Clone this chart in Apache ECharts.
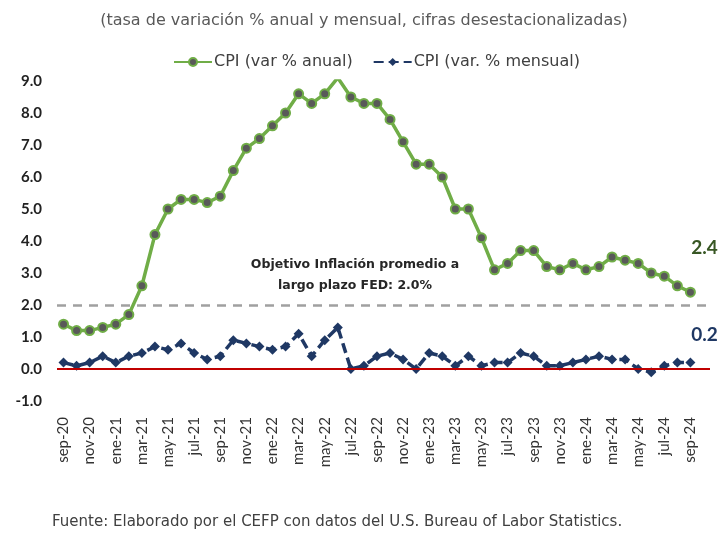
<!DOCTYPE html>
<html>
<head>
<meta charset="utf-8">
<script src="https://cdn.jsdelivr.net/npm/echarts@6/dist/echarts.min.js"></script>
<style>
  html, body { margin: 0; padding: 0; background: #fff; }
  #chart { width: 728px; height: 538px; }
</style>
</head>
<body>
<div id="chart"></div>
<script>
// meses sep-20 .. sep-24 (+1 hueco al final, como en el original)
const months = [
  'sep-20', 'oct-20', 'nov-20', 'dic-20',
  'ene-21', 'feb-21', 'mar-21', 'abr-21', 'may-21', 'jun-21', 'jul-21', 'ago-21', 'sep-21', 'oct-21', 'nov-21', 'dic-21',
  'ene-22', 'feb-22', 'mar-22', 'abr-22', 'may-22', 'jun-22', 'jul-22', 'ago-22', 'sep-22', 'oct-22', 'nov-22', 'dic-22',
  'ene-23', 'feb-23', 'mar-23', 'abr-23', 'may-23', 'jun-23', 'jul-23', 'ago-23', 'sep-23', 'oct-23', 'nov-23', 'dic-23',
  'ene-24', 'feb-24', 'mar-24', 'abr-24', 'may-24', 'jun-24', 'jul-24', 'ago-24', 'sep-24', ''
]

const cpiAnual = [
  1.4, 1.2, 1.2, 1.3,
  1.4, 1.7, 2.6, 4.2, 5.0, 5.3, 5.3, 5.2, 5.4, 6.2, 6.9, 7.2,
  7.6, 8.0, 8.6, 8.3, 8.6, 9.1, 8.5, 8.3, 8.3, 7.8, 7.1, 6.4,
  6.4, 6.0, 5.0, 5.0, 4.1, 3.1, 3.3, 3.7, 3.7, 3.2, 3.1, 3.3,
  3.1, 3.2, 3.5, 3.4, 3.3, 3.0, 2.9, 2.6, 2.4
]

const cpiMensual = [
  0.2, 0.1, 0.2, 0.4,
  0.2, 0.4, 0.5, 0.7, 0.6, 0.8, 0.5, 0.3, 0.4, 0.9, 0.8, 0.7,
  0.6, 0.7, 1.1, 0.4, 0.9, 1.3, 0.0, 0.1, 0.4, 0.5, 0.3, 0.0,
  0.5, 0.4, 0.1, 0.4, 0.1, 0.2, 0.2, 0.5, 0.4, 0.1, 0.1, 0.2,
  0.3, 0.4, 0.3, 0.3, 0.0, -0.1, 0.1, 0.2, 0.2
]

const objetivoFed = 2.0

const FONT = '"Century Gothic", "Lato", sans-serif'
const WIDE = '"DejaVu Sans", sans-serif'

// etiqueta solo en el último punto
function withEndLabel(arr, label) {
  return arr.map((v, i) => i === arr.length - 1 ? { value: v, label } : v)
}

const chart = echarts.init(document.getElementById('chart'))

chart.setOption({
  animation: false,
  textStyle: { fontFamily: FONT },
  title: {
    text: '(tasa de variación % anual y mensual, cifras desestacionalizadas)',
    left: 'center',
    top: 8,
    textStyle: { fontFamily: WIDE, fontSize: 16, fontWeight: 'normal', color: '#595959' }
  },
  legend: {
    top: 49,
    left: 168,
    itemWidth: 38,
    itemHeight: 10,
    itemGap: 20,
    textStyle: { fontFamily: WIDE, fontSize: 16, color: '#404040', padding: [0, 0, 0, -3] },
    data: ['CPI (var % anual)', 'CPI (var. % mensual)']
  },
  grid: { left: 57, right: 18, top: 81, bottom: 137 },
  xAxis: {
    type: 'category',
    data: months,
    boundaryGap: true,
    axisLine: { show: false },
    axisTick: { show: false },
    axisLabel: {
      interval: 1,
      rotate: 90,
      margin: 16,
      fontSize: 15,
      color: '#333'
    }
  },
  yAxis: {
    type: 'value',
    min: -1,
    max: 9,
    interval: 1,
    splitLine: { show: false },
    axisLine: { show: false },
    axisTick: { show: false },
    axisLabel: {
      margin: 15,
      fontSize: 15,
      fontWeight: 'bold',
      color: '#222',
      formatter: v => v.toFixed(1)
    }
  },
  graphic: [
    {
      type: 'text',
      x: 355,
      y: 254,
      style: {
        text: 'Objetivo Inflación promedio a\nlargo plazo FED: 2.0%',
        textAlign: 'center',
        font: 'bold 12.5px ' + WIDE,
        fill: '#262626',
        lineHeight: 21
      }
    },
    {
      type: 'text',
      left: 52,
      top: 515,
      style: {
        text: 'Fuente: Elaborado por el CEFP con datos del U.S. Bureau of Labor Statistics.',
        font: '15px ' + WIDE,
        fill: '#404040'
      }
    }
  ],
  series: [
    {
      name: 'CPI (var % anual)',
      type: 'line',
      z: 3,
      showAllSymbol: true,
      data: withEndLabel(cpiAnual, {
        show: true,
        position: 'top',
        offset: [14, -24],
        fontSize: 19,
        fontWeight: 'bold',
        color: '#375623'
      }),
      lineStyle: { color: '#70ad47', width: 3.5 },
      itemStyle: { color: '#595959', borderColor: '#70ad47', borderWidth: 2 },
      symbol: 'circle',
      symbolSize: 9,
      markLine: {
        silent: true,
        symbol: 'none',
        label: { show: false },
        lineStyle: { color: '#a0a0a0', width: 2.5, type: [9, 7] },
        data: [{ yAxis: objetivoFed }]
      }
    },
    {
      name: 'CPI (var. % mensual)',
      type: 'line',
      z: 4,
      showAllSymbol: true,
      data: withEndLabel(cpiMensual, {
        show: true,
        position: 'top',
        offset: [14, -8],
        fontSize: 19,
        fontWeight: 'bold',
        color: '#1f3864'
      }),
      lineStyle: { color: '#1f3864', width: 3.5, type: [10, 5] },
      itemStyle: { color: '#1f3864' },
      symbol: 'diamond',
      symbolSize: 10,
      markLine: {
        silent: true,
        symbol: 'none',
        label: { show: false },
        lineStyle: { color: '#c00000', width: 2, type: 'solid' },
        data: [{ yAxis: 0 }]
      }
    }
  ]
})
</script>
</body>
</html>
